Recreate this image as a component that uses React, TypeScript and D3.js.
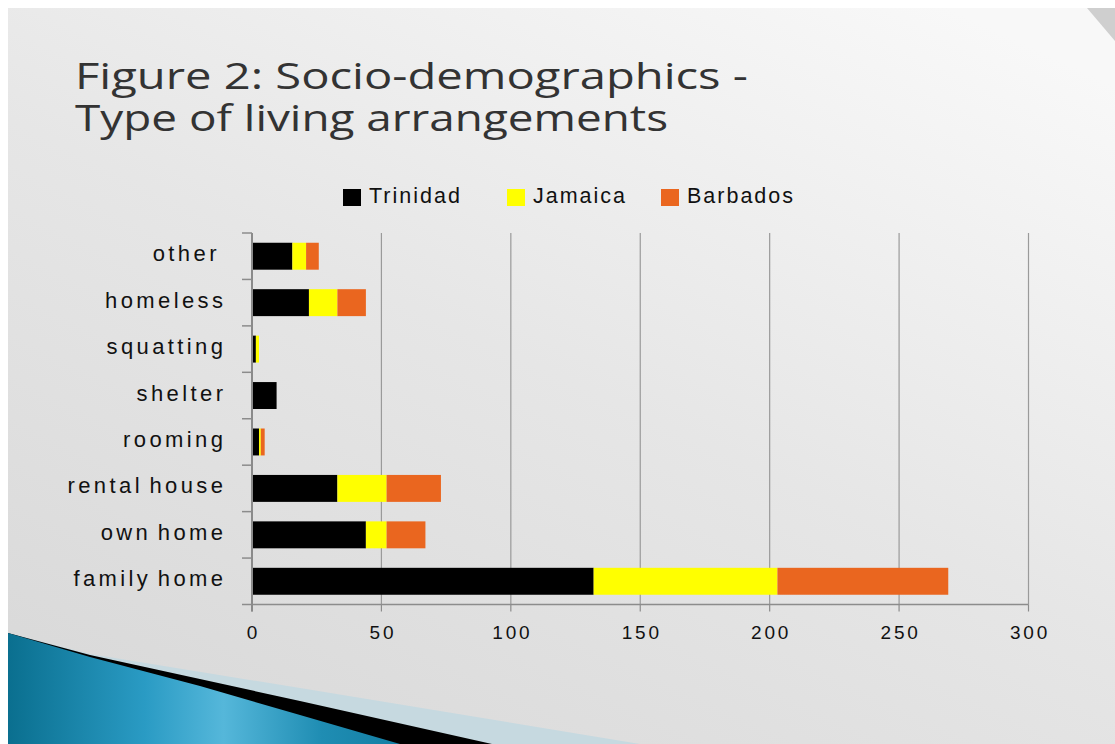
import React from "react";
import * as d3 from "d3";

const categories = ["family home", "own home", "rental house", "rooming", "shelter", "squatting", "homeless", "other "];
const trinidad = [132, 44, 33, 2.7, 9.5, 1.5, 22, 15.6];
const jamaica = [71, 8, 19, 0.7, 0, 1.2, 11, 5.3];
const barbados = [66, 15, 21, 1.5, 0, 0, 11, 4.9];
const seriesNames = ["Trinidad", "Jamaica", "Barbados"];
const seriesColors = ["#000000", "#ffff00", "#ea661f"];
const xTicks = [0, 50, 100, 150, 200, 250, 300];
const titleLines = ["Figure 2: Socio-demographics -", "Type of living arrangements"];

const W = 1115;
const H = 744;
const plot = { left: 252, right: 1028.5, top: 233, bottom: 604.5 };
const FONT = "'Liberation Sans', Arial, sans-serif";

export default function App() {
  const x = d3.scaleLinear().domain([0, 300]).range([plot.left, plot.right]);
  const order = categories.map((_, i) => i).reverse();
  const y = d3
    .scaleBand<number>()
    .domain(order)
    .range([plot.top, plot.bottom])
    .paddingInner(0.42)
    .paddingOuter(0.21);
  const yBoundary = d3
    .scaleLinear()
    .domain([0, categories.length])
    .range([plot.top, plot.bottom]);

  const rows = categories.map((c, i) => ({ c, i, t: trinidad[i], j: jamaica[i], b: barbados[i] }));
  const stack = d3.stack<any>().keys(["t", "j", "b"])(rows);

  const legendX = [343, 507, 661];

  return (
    <div style={{ position: "fixed", left: 0, top: 0, width: W, height: H, overflow: "hidden" }}>
      <svg width={W} height={H} style={{ display: "block" }}>
        <defs>
          <linearGradient id="bg" x1="0.15" y1="1" x2="0.85" y2="0">
            <stop offset="0" stopColor="#d9d9d9" />
            <stop offset="0.5" stopColor="#e6e6e6" />
            <stop offset="1" stopColor="#f8f8f8" />
          </linearGradient>
          <linearGradient id="blue" x1="8" y1="0" x2="400" y2="0" gradientUnits="userSpaceOnUse">
            <stop offset="0" stopColor="#0a6f8f" />
            <stop offset="0.35" stopColor="#2a9bc4" />
            <stop offset="0.55" stopColor="#55b7da" />
            <stop offset="0.8" stopColor="#1f8db3" />
            <stop offset="1" stopColor="#137fa4" />
          </linearGradient>
        </defs>
        <rect x={0} y={0} width={W} height={H} fill="#ffffff" />
        <rect x={8} y={8} width={W - 8} height={H - 8} fill="url(#bg)" />
        <polygon points="1087,8 1115,8 1115,41" fill="#cfcfcf" />

        {/* bottom-left decoration */}
        <polygon points="8,633 90,654 300,688 640,744 8,744" fill="#c6d9e0" />
        <polygon points="8,633 90,655 300,701 492,744 8,744" fill="#000000" />
        <polygon points="8,633 90,657 200,686 300,715 400,744 8,744" fill="url(#blue)" />

        {/* title */}
        <text fontFamily="'Open Sans', 'DejaVu Sans', sans-serif" fontSize={37} fill="#333333">
          {titleLines.map((t, k) => (
            <tspan
              key={k}
              x={75}
              y={89 + k * 42}
              textLength={k === 0 ? 673 : 593}
              lengthAdjust="spacingAndGlyphs"
            >
              {t}
            </tspan>
          ))}
        </text>

        {/* legend */}
        {seriesNames.map((n, k) => (
          <g key={n}>
            <rect x={legendX[k]} y={189} width={18} height={17} fill={seriesColors[k]} />
            <text x={legendX[k] + 26} y={202.5} fontFamily={FONT} fontSize={21.5} letterSpacing={2} fill="#111">
              {n}
            </text>
          </g>
        ))}

        {/* gridlines */}
        {xTicks.slice(1).map((v) => (
          <line key={v} x1={x(v)} x2={x(v)} y1={plot.top} y2={plot.bottom} stroke="#9a9a9a" strokeWidth={1.2} />
        ))}

        {/* bars */}
        {stack.map((layer, k) =>
          layer.map((d, i) => {
            const w = x(d[1]) - x(d[0]);
            if (w <= 0) return null;
            return (
              <rect
                key={`${k}-${i}`}
                x={x(d[0])}
                y={y(i)!}
                width={w}
                height={y.bandwidth()}
                fill={seriesColors[k]}
              />
            );
          })
        )}

        {/* axes */}
        <line x1={plot.left} x2={plot.right} y1={plot.bottom} y2={plot.bottom} stroke="#8c8c8c" strokeWidth={1.5} />
        {xTicks.map((v) => (
          <line key={v} x1={x(v)} x2={x(v)} y1={plot.bottom} y2={plot.bottom + 7} stroke="#8c8c8c" strokeWidth={1.2} />
        ))}
        <line x1={plot.left} x2={plot.left} y1={plot.top} y2={plot.bottom + 7} stroke="#8a8a8a" strokeWidth={2} />
        {d3.range(categories.length + 1).map((k) => (
          <line
            key={k}
            x1={plot.left - 10}
            x2={plot.left}
            y1={yBoundary(k)}
            y2={yBoundary(k)}
            stroke="#8c8c8c"
            strokeWidth={1.5}
          />
        ))}

        {/* x tick labels */}
        {xTicks.map((v) => (
          <text
            key={v}
            x={x(v) + 1.5}
            y={639}
            textAnchor="middle"
            fontFamily={FONT}
            fontSize={19}
            letterSpacing={2.8}
            fill="#111"
          >
            {v}
          </text>
        ))}

        {/* category labels */}
        {categories.map((c, i) => (
          <text
            key={c}
            x={223 + 3.4}
            y={y(i)! + y.bandwidth() / 2 + 5}
            textAnchor="end"
            fontFamily={FONT}
            fontSize={22}
            letterSpacing={3.4}
            wordSpacing={-3}
            fill="#111"
            style={{ whiteSpace: "pre" }}
          >
            {c}
          </text>
        ))}
      </svg>
    </div>
  );
}
